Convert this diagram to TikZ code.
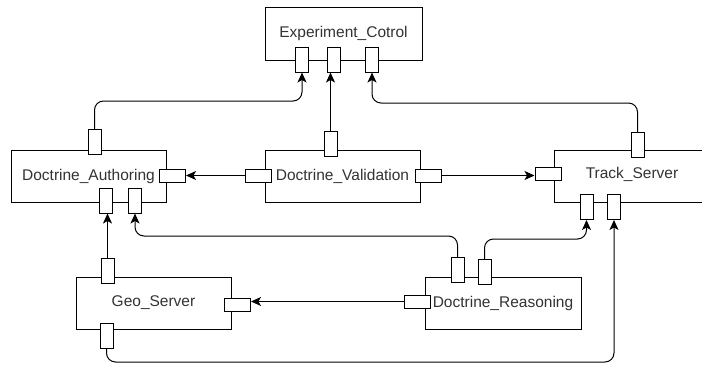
\documentclass[tikz,border=0pt]{standalone}
\usepackage{fontspec}
\setmainfont{Liberation Sans}
\usetikzlibrary{arrows.meta}
\begin{document}
\begin{tikzpicture}[x=1pt,y=-1pt,
  box/.style={draw, line width=1pt, fill=white, inner sep=0pt, minimum width=155pt, minimum height=52pt, font=\fontsize{15.5}{17}\selectfont, text=black!80},
  vport/.style={draw, line width=1pt, fill=white, inner sep=0pt, minimum width=13pt, minimum height=25pt},
  hport/.style={draw, line width=1pt, fill=white, inner sep=0pt, minimum width=26pt, minimum height=13pt},
  conn/.style={line width=1pt, rounded corners=9pt, -{Stealth[length=10pt,width=9pt,inset=2.5pt]}},
  lbl/.style={font=\fontsize{15.5}{17}\selectfont, text=black!80, inner sep=0pt}]
\useasboundingbox (0,0) rectangle (702,365);
\clip (0,0) rectangle (702,365);
% boxes
\node[box, minimum width=157pt, minimum height=53pt] (EC) at (343.5,33.5) {Experiment\_Cotrol};
\node[box] (DA) at (88.5,176) {Doctrine\_Authoring};
\node[box] (DV) at (342.5,176) {Doctrine\_Validation};
\node[box, minimum width=200pt] (TS) at (654,176) {};
\node[lbl] (TSl) at (632,174) {Track\_Server};
\node[box] (GS) at (153.5,303) {Geo\_Server};
\node[box, minimum width=156pt] (DR) at (503,303) {Doctrine\_Reasoning};
% ports
\node[vport] (ECp1) at (302,59.5) {};
\node[vport] (ECp2) at (334,59.5) {};
\node[vport] (ECp3) at (372,59.5) {};
\node[vport] (DAt) at (94.5,142) {};
\node[hport] (DAr) at (172.5,175.5) {};
\node[vport] (DAb1) at (105.5,200.5) {};
\node[vport] (DAb2) at (135,200.5) {};
\node[vport] (DVt) at (330.5,143.5) {};
\node[hport] (DVl) at (258,175.5) {};
\node[hport] (DVr) at (428,175.5) {};
\node[vport] (TSt) at (637.5,145) {};
\node[hport] (TSp) at (548,173.5) {};
\node[vport] (TSb1) at (586.5,207) {};
\node[vport] (TSb2) at (614,207) {};
\node[vport] (GSt) at (107.5,270.5) {};
\node[hport] (GSr) at (237.5,304.5) {};
\node[vport] (GSb) at (106.5,336) {};
\node[vport] (DRt1) at (457.5,270) {};
\node[vport] (DRt2) at (484.5,272) {};
\node[hport] (DRl) at (417.5,301.5) {};
% bend points
\coordinate (c1) at (200,101);
\coordinate (c2) at (500,103);
\coordinate (c3) at (300,236);
\coordinate (c4) at (540,239);
\coordinate (c5) at (400,362);
% connectors
\draw[conn] (DAt.north) |- (c1) -| (ECp1.south);
\draw[conn] (DVt.north) -- (DVt.north |- ECp2.south);
\draw[conn] (TSt.north) |- (c2) -| (ECp3.south);
\draw[conn] (DVl.west) -- (DAr.east);
\draw[conn] (DVr.east) -- (DVr.east -| TSp.west);
\draw[conn] (GSt.north) -- (GSt.north |- DAb1.south);
\draw[conn] (DRt1.north) |- (c3) -| (DAb2.south);
\draw[conn] (DRt2.north) |- (c4) -| (TSb1.south);
\draw[conn] (DRl.west) -- (DRl.west -| GSr.east);
\draw[conn] (GSb.south) |- (c5) -| (TSb2.south);
\end{tikzpicture}
\end{document}
